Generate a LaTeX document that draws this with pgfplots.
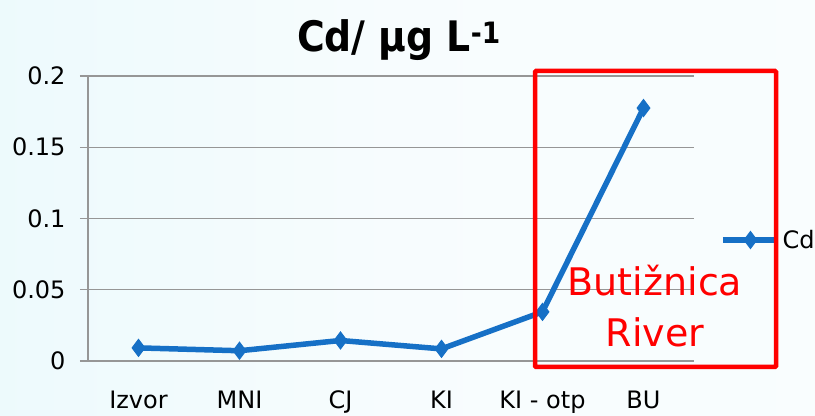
\documentclass[border=0pt]{standalone}
\usepackage{pgfplots}
\pgfplotsset{compat=1.18}
\usepackage{fontspec}
\setmainfont{DejaVu Sans}
\newfontfamily\titlefont{DejaVu Sans Condensed}

\definecolor{cdblue}{RGB}{22,112,198}
\definecolor{gridgray}{RGB}{150,150,150}
\definecolor{boxred}{RGB}{255,0,0}

\pgfdeclarehorizontalshading{slidebg}{100bp}{%
  rgb(0bp)=(0.86,0.96,0.985);
  rgb(25bp)=(0.93,0.98,0.99);
  rgb(50bp)=(0.97,0.99,0.995);
  rgb(100bp)=(0.98,0.993,0.995)}

\begin{document}
\begin{tikzpicture}
  % slide background
  \shade[shading=slidebg] (0,0) rectangle (815bp,416bp);

  \begin{axis}[
      at={(88bp,55bp)}, anchor=south west,
      scale only axis, width=606bp, height=285bp,
      xmin=-0.5, xmax=5.5, ymin=0, ymax=0.2,
      axis lines*=left,
      axis line style={draw=gridgray, line width=1.4bp},
      ymajorgrids,
      grid style={draw=gridgray, line width=1.4bp},
      xtick={0,...,5},
      xticklabels={Izvor,MNI,CJ,KI,KI - otp,BU},
      ytick={0,0.05,0.1,0.15,0.2},
      yticklabels={0,0.05,0.1,0.15,0.2},
      x tick style={draw=none},
      y tick style={draw=gridgray, line width=1.4bp},
      major tick length=8bp,
      tick align=outside,
      tick label style={font=\fontsize{24bp}{28bp}\selectfont, text=black},
      xticklabel style={yshift=-18bp},
      yticklabel style={anchor=east, xshift=-11bp},
      legend style={draw=none, fill=none, at={(1,0.4246)}, anchor=west,
        xshift=26bp, font=\fontsize{24bp}{28bp}\selectfont,
        inner sep=0pt},
      legend image code/.code={%
        \draw[mark repeat=2, mark phase=2, #1]
          plot coordinates {(0bp,0bp) (27.5bp,0bp) (55bp,0bp)};},
      clip=false,
    ]
    \addplot[cdblue, line width=5.5bp, mark=diamond*,
             mark size=8.5bp, mark options={line width=1bp, fill=cdblue}]
      coordinates {(0,0.0092) (1,0.0072) (2,0.0144) (3,0.0085) (4,0.0345) (5,0.1775)};
    \addlegendentry{Cd}
  \end{axis}

  % title
  \node[anchor=base, font=\titlefont\bfseries\fontsize{42bp}{48bp}\selectfont]
    at (399bp,364bp) {Cd/ μg L\textsuperscript{-1}};

  % highlighted section
  \draw[boxred, line width=4.5bp, rounded corners=1bp]
    (535bp,49bp) rectangle (776bp,345bp);
  \node[anchor=base, text=boxred, font=\fontsize{38bp}{44bp}\selectfont]
    at (655bp,120bp) {Butižnica};
  \node[anchor=base, text=boxred, font=\fontsize{38bp}{44bp}\selectfont]
    at (655bp,69bp) {River};

  \pgfresetboundingbox
  \path (0,0) rectangle (815bp,416bp);
\end{tikzpicture}
\end{document}
